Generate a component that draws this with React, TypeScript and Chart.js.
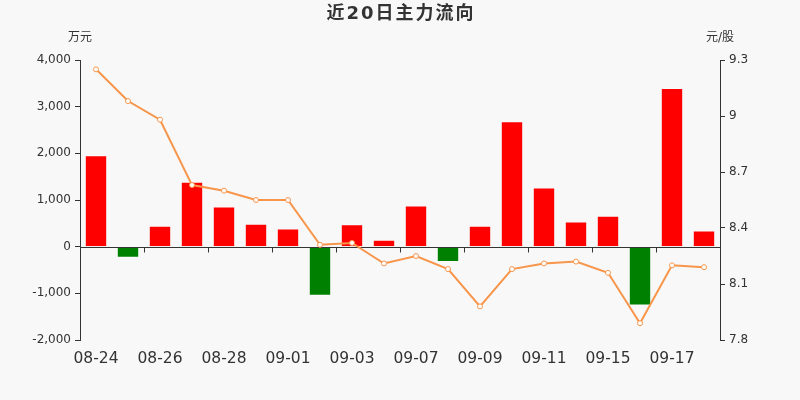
import { Chart, registerables } from "chart.js";
import { useEffect, useRef } from "react";

Chart.register(...registerables);

const dates = [
  "08-24", "08-25", "08-26", "08-27", "08-28", "08-31", "09-01", "09-02", "09-03", "09-04",
  "09-07", "09-08", "09-09", "09-10", "09-11", "09-14", "09-15", "09-16", "09-17", "09-18",
];
// main net inflow, 万元
const flow = [
  1960, -240, 450, 1390, 860, 490, 390, -1050, 480, 150,
  880, -330, 450, 2690, 1270, 540, 660, -1260, 3400, 345,
];
// closing price, 元/股
const price = [
  9.25, 9.08, 8.98, 8.63, 8.6, 8.55, 8.55, 8.31, 8.32, 8.21,
  8.25, 8.18, 7.98, 8.18, 8.21, 8.22, 8.16, 7.89, 8.2, 8.19,
];
const leftTicks = [-2000, -1000, 0, 1000, 2000, 3000, 4000];
const rightTicks = [7.8, 8.1, 8.4, 8.7, 9, 9.3];

const FONT = '"DejaVu Sans", "Noto Sans CJK SC", sans-serif';
const TEXT = "#333";

const decor = {
  id: "decor",
  afterDatasetDraw(chart: any, args: any) {
    if (args.meta.type !== "bar") return;
    const { ctx, chartArea, scales } = chart;
    const y0 = Math.round(scales.y.getPixelForValue(0)) + 0.5;
    ctx.save();
    ctx.strokeStyle = TEXT;
    ctx.lineWidth = 1;
    ctx.beginPath();
    ctx.moveTo(chartArea.left, y0);
    ctx.lineTo(chartArea.right, y0);
    const half = (chartArea.right - chartArea.left) / dates.length / 2;
    for (let i = 2; i < dates.length; i += 2) {
      const x = Math.round(scales.x.getPixelForValue(i) - half) + 0.5;
      ctx.moveTo(x, y0);
      ctx.lineTo(x, y0 + 5);
    }
    ctx.stroke();
    ctx.restore();
  },
  afterDraw(chart: any) {
    const { ctx, chartArea } = chart;
    ctx.save();
    ctx.fillStyle = TEXT;
    ctx.textAlign = "center";
    ctx.textBaseline = "middle";
    ctx.font = `bold 18px ${FONT}`;
    (ctx as any).letterSpacing = "2px";
    ctx.fillText("近20日主力流向", chart.width / 2 + 1, 14);
    (ctx as any).letterSpacing = "0px";
    ctx.font = `12px ${FONT}`;
    ctx.fillText("万元", chartArea.left, 38);
    ctx.fillText("元/股", chartArea.right, 38);
    ctx.restore();
  },
};

export default function App() {
  const canvasRef = useRef<HTMLCanvasElement | null>(null);
  useEffect(() => {
    document.body.style.margin = "0";
    if (!canvasRef.current) return;
    const chart = new Chart(canvasRef.current, {
      type: "bar",
      data: {
        labels: dates,
        datasets: [
          {
            type: "bar",
            label: "主力流向",
            data: flow,
            yAxisID: "y",
            order: 1,
            backgroundColor: flow.map((v) => (v >= 0 ? "#ff0000" : "#008000")),
            borderColor: "rgba(255,255,255,0.45)",
            borderWidth: 1,
            barPercentage: 0.7,
            categoryPercentage: 1,
          },
          {
            type: "line",
            label: "价格",
            data: price,
            yAxisID: "y1",
            order: 0,
            borderColor: "#f7954a",
            borderWidth: 2,
            pointRadius: 2.5,
            pointBorderWidth: 1,
            pointBackgroundColor: "#ffffff",
            pointBorderColor: "#f7954a",
            tension: 0,
          },
        ],
      },
      options: {
        responsive: false,
        animation: false,
        layout: { padding: { top: 60, left: 0, right: 0, bottom: 0 } },
        plugins: { legend: { display: false }, tooltip: { enabled: false } },
        scales: {
          x: {
            grid: { display: false },
            border: { display: false },
            afterFit: (s: any) => {
              s.height = 60;
            },
            ticks: {
              autoSkip: false,
              maxRotation: 0,
              padding: 2,
              color: TEXT,
              font: { family: FONT, size: 15.5 },
              callback: (_v: any, i: number) => (i % 2 === 0 ? dates[i] : ""),
            },
          },
          y: {
            position: "left",
            min: leftTicks[0],
            max: leftTicks[leftTicks.length - 1],
            afterBuildTicks: (s: any) => {
              s.ticks = leftTicks.map((value) => ({ value }));
            },
            afterFit: (s: any) => {
              s.width = 80;
            },
            grid: { drawOnChartArea: false, tickLength: 5, color: TEXT },
            border: { color: TEXT },
            ticks: {
              padding: 4,
              color: TEXT,
              font: { family: FONT, size: 12 },
              callback: (v: any) => Number(v).toLocaleString("en-US"),
            },
          },
          y1: {
            position: "right",
            min: rightTicks[0],
            max: rightTicks[rightTicks.length - 1],
            afterBuildTicks: (s: any) => {
              s.ticks = rightTicks.map((value) => ({ value }));
            },
            afterFit: (s: any) => {
              s.width = 80;
            },
            grid: { drawOnChartArea: false, tickLength: 5, color: TEXT },
            border: { color: TEXT },
            ticks: {
              padding: 4,
              color: TEXT,
              font: { family: FONT, size: 12 },
              callback: (v: any) => String(Number(Number(v).toFixed(1))),
            },
          },
        },
      },
      plugins: [decor],
    });
    return () => chart.destroy();
  }, []);
  return (
    <div style={{ width: 800, height: 400, background: "#f8f8f8" }}>
      <canvas ref={canvasRef} width={800} height={400} />
    </div>
  );
}
